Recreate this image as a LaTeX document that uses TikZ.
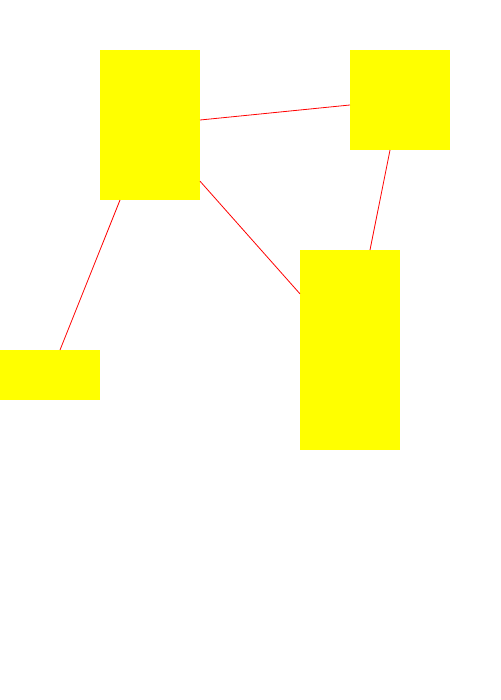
\documentclass[tikz,border=0pt]{standalone}
\begin{document}
\begin{tikzpicture}[x=1pt,y=-1pt,
  box/.style={fill={rgb,255:red,255;green,255;blue,0},draw=none,inner sep=0pt,outer sep=0pt,rectangle},
  link/.style={draw={rgb,255:red,255;green,0;blue,0},line width=0.8pt}]
\useasboundingbox[fill=white] (0,0) rectangle (500,700);
\node[box,minimum width=100pt,minimum height=150pt] (a) at (150,125) {};
\node[box,minimum width=100pt,minimum height=100pt] (b) at (400,100) {};
\node[box,minimum width=100pt,minimum height=200pt] (c) at (350,350) {};
\node[box,minimum width=100pt,minimum height=50pt] (d) at (50,375) {};
\draw[link] (a) -- (b);
\draw[link] (a) -- (c);
\draw[link] (b) -- (c);
\draw[link] (a) -- (d);
\end{tikzpicture}
\end{document}
